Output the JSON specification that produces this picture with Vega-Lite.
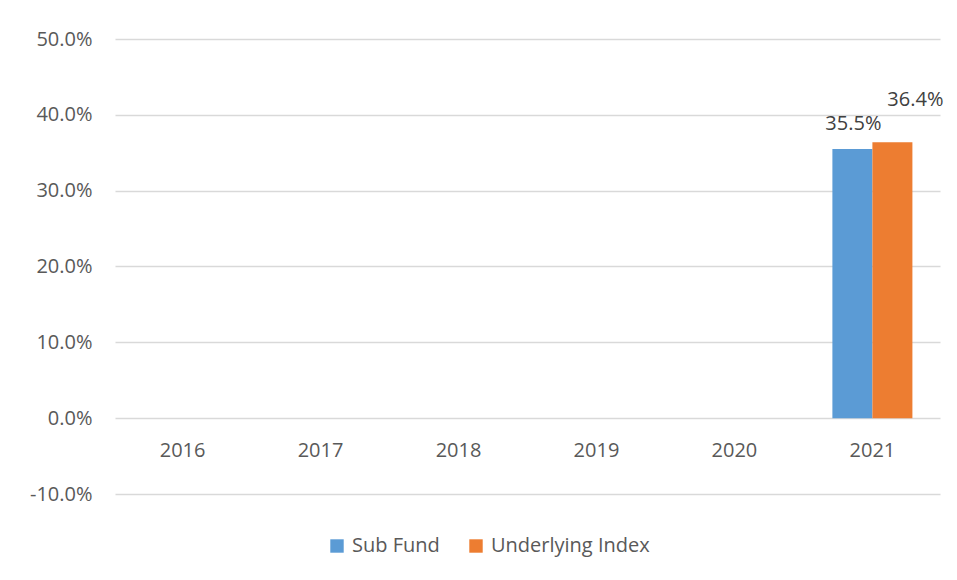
{
  "$schema": "https://vega.github.io/schema/vega-lite/v6.json",
  "width": 825,
  "height": 455,
  "autosize": {"type": "none"},
  "padding": {"left": 115, "top": 39, "right": 17, "bottom": 86},
  "background": "white",
  "config": {
    "view": {"stroke": null},
    "font": "Open Sans",
    "axis": {"labelFont": "Open Sans", "labelColor": "#595959", "labelFontSize": 20},
    "legend": {"labelFont": "Open Sans", "labelColor": "#595959", "labelFontSize": 20}
  },
  "data": {
    "values": [
      {"year": "2016", "series": "Sub Fund", "value": null},
      {"year": "2016", "series": "Underlying Index", "value": null},
      {"year": "2017", "series": "Sub Fund", "value": null},
      {"year": "2017", "series": "Underlying Index", "value": null},
      {"year": "2018", "series": "Sub Fund", "value": null},
      {"year": "2018", "series": "Underlying Index", "value": null},
      {"year": "2019", "series": "Sub Fund", "value": null},
      {"year": "2019", "series": "Underlying Index", "value": null},
      {"year": "2020", "series": "Sub Fund", "value": null},
      {"year": "2020", "series": "Underlying Index", "value": null},
      {"year": "2021", "series": "Sub Fund", "value": 0.355},
      {"year": "2021", "series": "Underlying Index", "value": 0.364}
    ]
  },
  "encoding": {
    "x": {
      "field": "year", "type": "nominal", "sort": null,
      "scale": {"domain": ["2016", "2017", "2018", "2019", "2020", "2021"], "paddingInner": 0.42, "paddingOuter": 0.2},
      "axis": {"title": null, "labelAngle": 0, "domain": false, "ticks": false, "grid": false, "offset": -76, "labelPadding": 22}
    },
    "xOffset": {"field": "series", "type": "nominal", "sort": ["Sub Fund", "Underlying Index"], "scale": {"domain": ["Sub Fund", "Underlying Index"]}},
    "y": {
      "field": "value", "type": "quantitative",
      "scale": {"domain": [-0.1, 0.5], "nice": false, "zero": false},
      "axis": {"title": null, "format": ".1%", "labelExpr": "replace(datum.label, '\u2212', '-')", "values": [-0.1, 0, 0.1, 0.2, 0.3, 0.4, 0.5], "domain": false, "ticks": false, "gridColor": "#d9d9d9", "gridWidth": 1.3, "labelPadding": 23}
    }
  },
  "layer": [
    {
      "mark": {"type": "bar"},
      "encoding": {
        "color": {
          "field": "series", "type": "nominal",
          "scale": {"domain": ["Sub Fund", "Underlying Index"], "range": ["#5B9BD5", "#ED7D31"]},
          "legend": {"title": null, "orient": "none", "legendX": 212, "legendY": 497, "direction": "horizontal", "symbolType": "square", "symbolSize": 180, "symbolStrokeWidth": 0, "symbolOpacity": 1, "columnPadding": 26, "labelOffset": 5}
        }
      }
    },
    {
      "transform": [{"filter": "datum.series === 'Sub Fund' && datum.value != null"}],
      "mark": {"type": "text", "dy": -25, "dx": 1, "fontSize": 20, "color": "#404040", "font": "Open Sans"},
      "encoding": {"text": {"field": "value", "type": "quantitative", "format": ".1%"}}
    },
    {
      "transform": [{"filter": "datum.series === 'Underlying Index' && datum.value != null"}],
      "mark": {"type": "text", "dy": -42, "dx": 23, "fontSize": 20, "color": "#404040", "font": "Open Sans"},
      "encoding": {"text": {"field": "value", "type": "quantitative", "format": ".1%"}}
    }
  ]
}
